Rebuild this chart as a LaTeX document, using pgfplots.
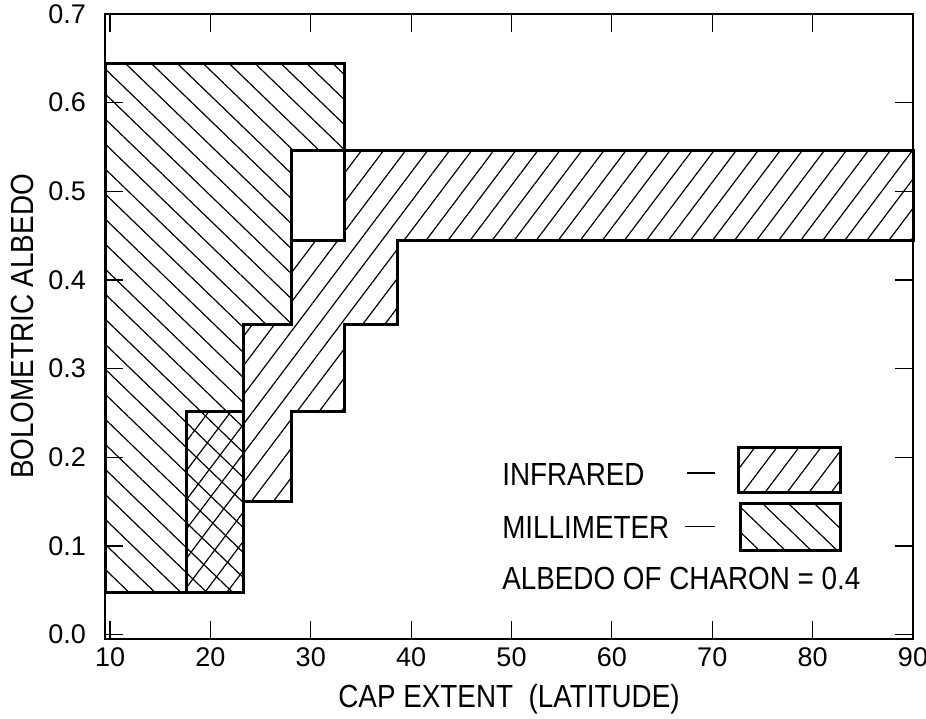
\documentclass[border=0pt]{standalone}
\usepackage{fontspec}
\setmainfont{Liberation Sans}
\newfontfamily\condfont[FakeStretch=0.87]{Liberation Sans}
\usepackage{pgfplots}
\pgfplotsset{compat=1.18}
\usetikzlibrary{patterns.meta,calc}

% hatching for the two measurement constraints
\tikzset{
  irhatch/.style={pattern={Lines[angle=53,distance=8.8pt,line width=0.6pt]},pattern color=black},
  mmhatch/.style={pattern={Lines[angle=-44,distance=9pt,line width=0.6pt]},pattern color=black},
}

\begin{document}
\begin{tikzpicture}
\begin{axis}[
  scale only axis,
  width=404pt, height=312.5pt,
  xmin=9.5, xmax=90, ymin=-0.005, ymax=0.7,
  clip=false,
  xtick={10,20,30,40,50,60,70,80,90},
  ytick={0,0.1,0.2,0.3,0.4,0.5,0.6,0.7},
  tick align=inside,
  major tick length=9pt,
  major tick style={black,line width=0.6pt},
  axis line style={black,line width=1pt},
  /pgf/number format/assume math mode=true,
  ticklabel style={font=\fontsize{13.5}{15}\selectfont},
  yticklabel style={/pgf/number format/.cd,fixed,fixed zerofill,precision=1,/tikz/.cd,xshift=-6pt},
  xticklabel style={/pgf/number format/.cd,fixed,precision=0,/tikz/.cd,yshift=-1pt},
  xlabel={\condfont CAP EXTENT\ \ (LATITUDE)},
  ylabel={\condfont BOLOMETRIC ALBEDO},
  label style={font=\fontsize{16}{18}\selectfont},
  xlabel style={at={(axis description cs:0.5,-0.1088)},anchor=base},
  ylabel style={at={(axis description cs:-0.1027,0.5)},anchor=center},
]

% infrared constraint
\addplot[draw=black,line width=1.5pt,irhatch,line join=miter] coordinates {
  (17.6,0.048) (23.3,0.048) (23.3,0.150) (28.1,0.150) (28.1,0.252)
  (33.4,0.252) (33.4,0.350) (38.6,0.350) (38.6,0.445) (90,0.445)
  (90,0.546) (33.4,0.546) (33.4,0.445) (28.1,0.445) (28.1,0.350)
  (23.3,0.350) (23.3,0.252) (17.6,0.252)
} -- cycle;

% millimeter constraint
\addplot[draw=black,line width=1.5pt,mmhatch,line join=miter] coordinates {
  (9.5,0.048) (23.3,0.048) (23.3,0.350) (28.1,0.350) (28.1,0.546)
  (33.4,0.546) (33.4,0.644) (9.5,0.644)
} -- cycle;

% key
\node[anchor=base west,inner sep=0pt,font=\fontsize{16}{18}\selectfont\condfont]
  at (axis cs:49.04,0.1687) {INFRARED};
\node[anchor=base west,inner sep=0pt,font=\fontsize{16}{18}\selectfont\condfont]
  at (axis cs:49.04,0.1085) {MILLIMETER};
\node[anchor=base west,inner sep=0pt,font=\fontsize{16}{18}\selectfont\condfont]
  at (axis cs:49.04,0.0511) {ALBEDO OF CHARON = 0.4};
\draw[line width=0.6pt] (axis cs:67.47,0.1822) -- (axis cs:70.26,0.1822);
\draw[line width=0.6pt] (axis cs:67.27,0.1218) -- (axis cs:70.26,0.1218);
\draw[line width=1.5pt,irhatch] (axis cs:72.65,0.1608) rectangle (axis cs:82.8,0.2115);
\draw[line width=1.5pt,mmhatch] (axis cs:72.85,0.0944) rectangle (axis cs:82.8,0.1473);
\end{axis}
\pgfresetboundingbox
\path[use as bounding box] ($(current axis.south west)+(-52.5pt,-39.5pt)$)
  rectangle ($(current axis.north east)+(6.5pt,7pt)$);
\end{tikzpicture}
\end{document}
